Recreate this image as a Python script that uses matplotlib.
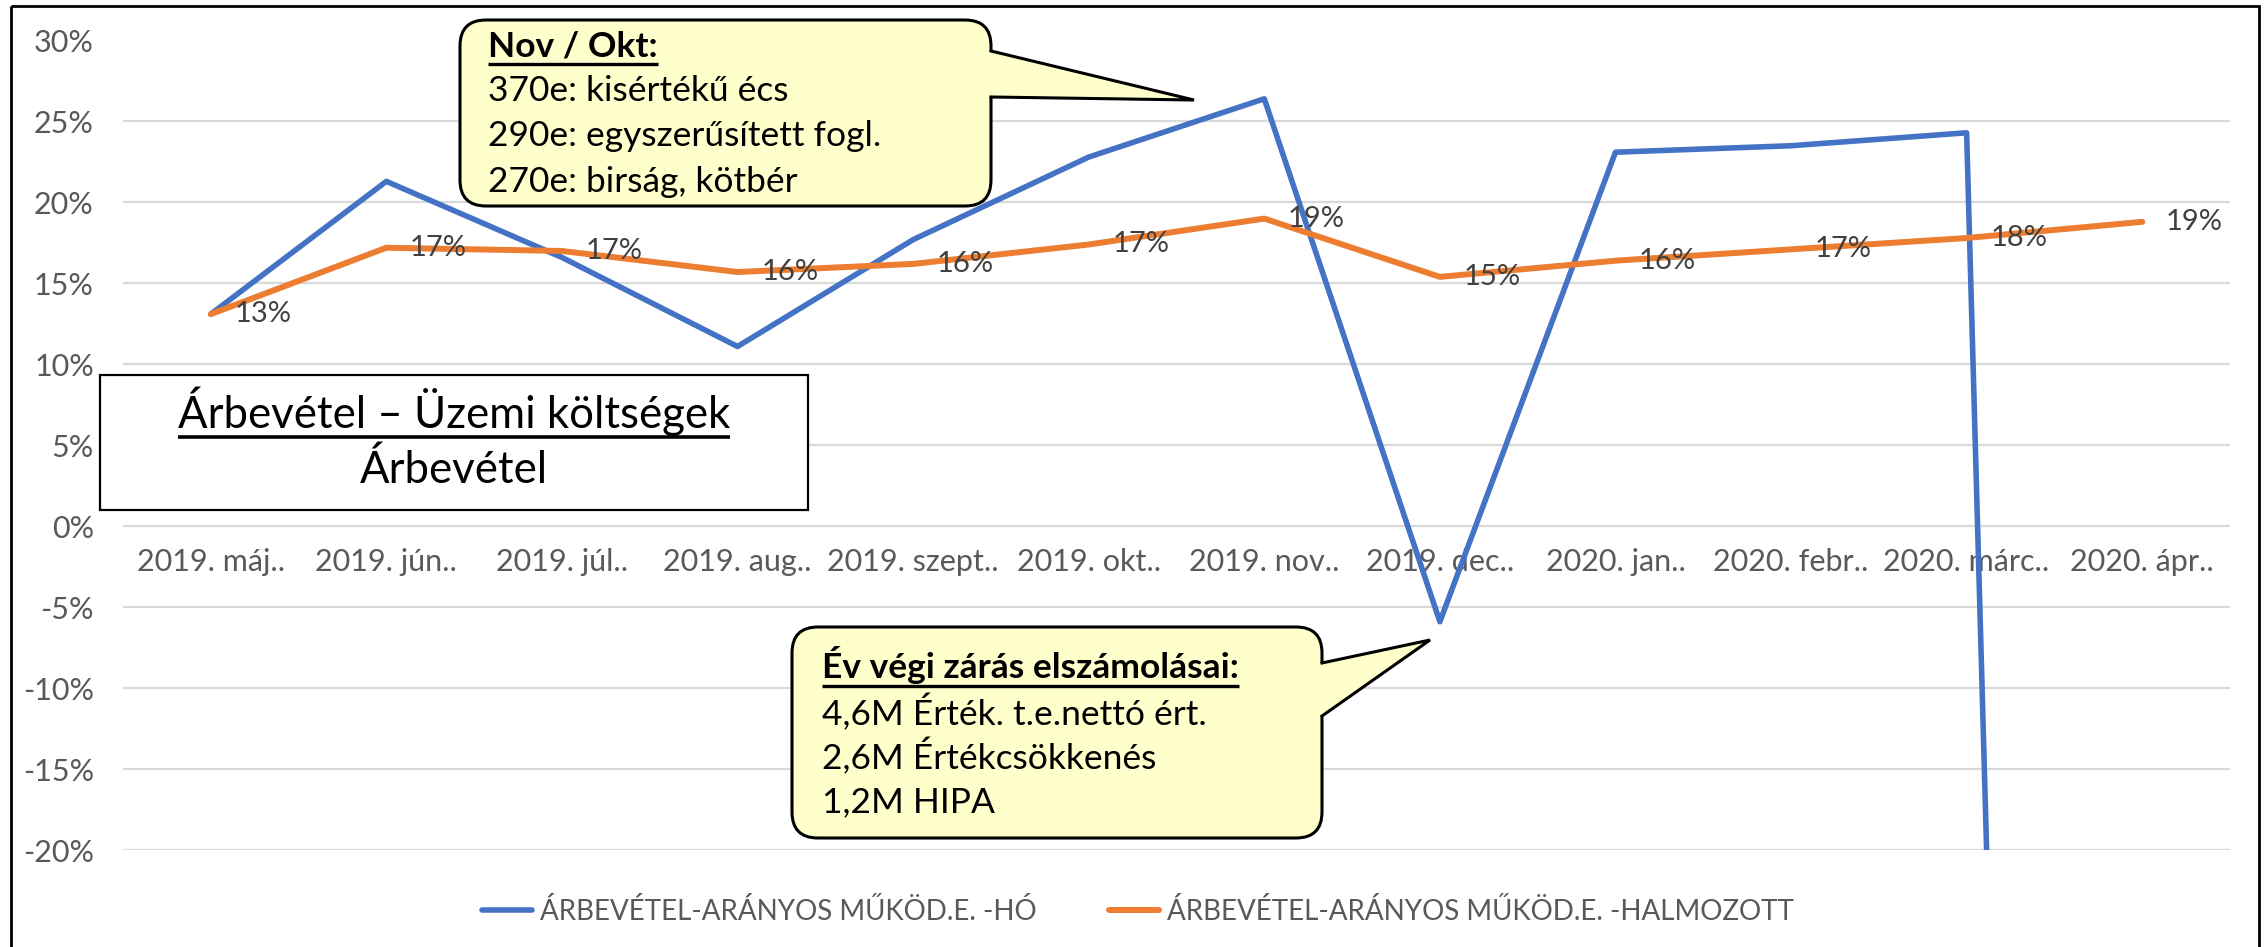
import numpy as np
import matplotlib
matplotlib.use("Agg")
import matplotlib.pyplot as plt
from matplotlib.patches import FancyBboxPatch, Polygon, Rectangle

# data (percent)
months = ["2019. máj..", "2019. jún..", "2019. júl..", "2019. aug..", "2019. szept..", "2019. okt..",
          "2019. nov..", "2019. dec..", "2020. jan..", "2020. febr..", "2020. márc..", "2020. ápr.."]
monthly = [13.1, 21.3, 16.6, 11.1, 17.7, 22.8, 26.4, -5.9, 23.1, 23.5, 24.3, -365.0]
cumulative = [13.1, 17.2, 17.0, 15.7, 16.2, 17.4, 19.0, 15.4, 16.4, 17.1, 17.8, 18.8]
series_names = ["ÁRBEVÉTEL-ARÁNYOS MŰKÖD.E. -HÓ", "ÁRBEVÉTEL-ARÁNYOS MŰKÖD.E. -HALMOZOTT"]
yticks = list(range(-20, 31, 5))

note_top = ["Nov / Okt:", "370e: kisértékű écs", "290e: egyszerűsített fogl.", "270e: birság, kötbér"]
note_bottom = ["Év végi zárás elszámolásai:", "4,6M Érték. t.e.nettó ért.", "2,6M Értékcsökkenés", "1,2M HIPA"]
title_lines = ["Árbevétel – Üzemi költségek", "Árbevétel"]

BLUE = "#4472C4"
ORANGE = "#ED7D31"
GRAY = "#595959"
NOTE_BG = "#FFFFCC"

W, H = 2267, 947
plt.rcParams['font.family'] = ['Lato', 'DejaVu Sans']

fig = plt.figure(figsize=(W / 100, H / 100), dpi=100)
ax = fig.add_axes([123 / W, 1 - 850 / H, (2230 - 123) / W, (850 - 40.5) / H])

x = np.arange(len(months))
ax.plot(x, monthly, color=BLUE, lw=4.0, solid_joinstyle='round', solid_capstyle='round', label=series_names[0])
ax.plot(x, cumulative, color=ORANGE, lw=4.3, solid_joinstyle='round', solid_capstyle='round', label=series_names[1])

for i, v in enumerate(cumulative):
    ax.annotate(f"{v:.0f}%", (i, v), xytext=(17, 0), textcoords='offset points',
                ha='left', va='center', fontsize=21, color="#404040")

ax.set_xlim(-0.5, len(months) - 0.5)
ax.set_ylim(-20, 30)
ax.set_yticks(yticks)
ax.set_yticklabels([f"{t}%" for t in yticks])
ax.set_xticks(x)
ax.set_xticklabels(months)
ax.yaxis.grid(True, color="#D9D9D9", lw=1.6)
ax.set_axisbelow(True)
for s in ax.spines.values():
    s.set_visible(False)
ax.spines['bottom'].set_position(('data', 0))
ax.tick_params(axis='y', length=0, pad=21, labelsize=22, labelcolor=GRAY)
ax.tick_params(axis='x', length=0, pad=16, labelsize=22, labelcolor=GRAY)

fig.legend(loc='center', bbox_to_anchor=(0.502, 1 - 911 / H), ncol=2, frameon=False,
           fontsize=20, labelcolor=GRAY, handlelength=1.8, handletextpad=0.3, columnspacing=2.6)

# overlay in pixel units for boxes and callouts
ov = fig.add_axes([0, 0, 1, 1], zorder=5)
ov.set_xlim(0, W)
ov.set_ylim(H, 0)
ov.axis('off')
ov.patch.set_alpha(0)

ov.add_patch(Rectangle((11, 6), 2259 - 11, H + 20, fill=False, ec='black', lw=2))


def underline(t, y, lw):
    fig.canvas.draw()
    bb = t.get_window_extent(renderer=fig.canvas.get_renderer())
    (xa, _), (xb, _) = ov.transData.inverted().transform([[bb.x0, bb.y0], [bb.x1, bb.y0]])
    ov.plot([xa, xb], [y, y], color='black', lw=lw, solid_capstyle='butt')


def callout(lines, box, tail, tx, tys, uy, fs):
    x0, y0, x1, y1 = box
    ov.add_patch(FancyBboxPatch((x0, y0), x1 - x0, y1 - y0, boxstyle="round,pad=0,rounding_size=26",
                                fc=NOTE_BG, ec='black', lw=2.2))
    a, tip, b = tail
    ov.add_patch(Polygon([(a[0] - 5, a[1]), a, tip, b, (b[0] - 5, b[1])], closed=True, fc=NOTE_BG, ec='none'))
    ov.plot([a[0], tip[0], b[0]], [a[1], tip[1], b[1]], color='black', lw=2.2, solid_joinstyle='miter')
    for k, (line, y) in enumerate(zip(lines, tys)):
        t = ov.text(tx, y, line, ha='left', va='center', fontsize=fs, color='black',
                    weight='bold' if k == 0 else 'normal')
        if k == 0:
            underline(t, uy, 2.4)


callout(note_top, (460, 20, 991, 206), ((991, 51), (1194, 100), (991, 97)),
        488, [46, 91, 136, 182], 64, 25.5)
callout(note_bottom, (792, 627, 1322, 838), ((1322, 663), (1430, 640), (1322, 716)),
        822, [665, 713, 757, 802], 686, 25.5)

# title box
ov.add_patch(Rectangle((99.5, 375), 808 - 99.5, 510 - 375, fc='white', ec='black', lw=1.6))
t1 = ov.text(454, 411, title_lines[0], ha='center', va='center', fontsize=31.5, color='black')
ov.text(454, 470, title_lines[1], ha='center', va='center', fontsize=31.5, color='black')
underline(t1, 437, 2.6)

fig.savefig("out.png", dpi=100)
